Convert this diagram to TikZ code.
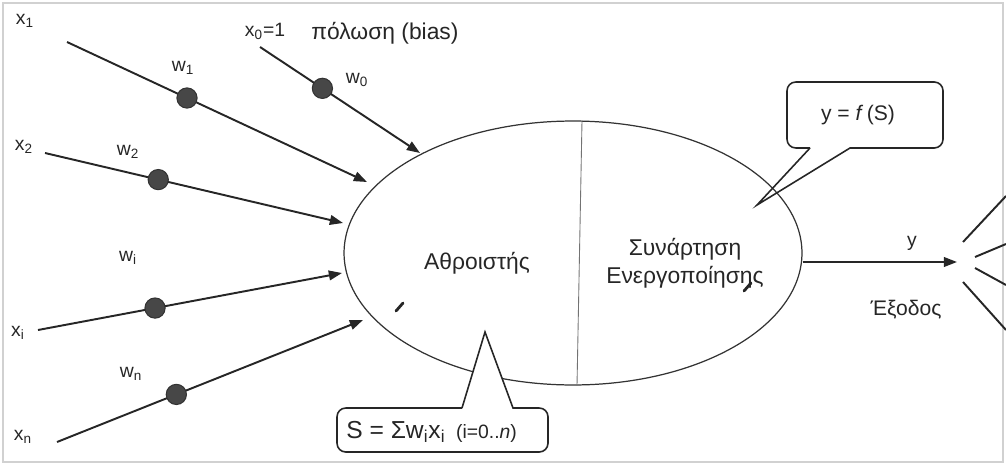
\documentclass[tikz,border=0pt]{standalone}
\usepackage{fontspec}
\setmainfont{Liberation Sans}
\usetikzlibrary{arrows.meta,shapes.geometric,calc}

\begin{document}
\begin{tikzpicture}[x=0.02cm,y=-0.02cm,
  line/.style={draw=black!85, line width=1.1pt},
  arr/.style={line, -{Triangle[length=7.5pt,width=5.5pt]}},
  wdot/.style={circle, fill=black!72, draw=black!80, line width=0.6pt, minimum size=11.5pt, inner sep=0pt},
  lbl/.style={font=\fontsize{11}{13}\selectfont, text=black!85, inner sep=0pt},
  big/.style={font=\fontsize{13}{16}\selectfont, text=black!85, align=center, inner sep=0pt},
  bubble/.style={draw=black!85, line width=0.9pt},
  stroke/.style={draw=black!85, line width=1.6pt, line cap=round},
]
\useasboundingbox (0,0) rectangle (1006,466);
% faint outer frame
\draw[black!18, line width=0.8pt] (3,3) rectangle (1003,462);

% the neuron body
\node[ellipse, draw=black!80, line width=0.7pt, minimum width=9.16cm, minimum height=5.28cm, inner sep=0pt] (neuron) at (573,253) {};
\draw[black!55, line width=0.5pt] ($(neuron.north)+(9,0)$) -- ($(neuron.south)+(4,0)$);

% input labels
\node[lbl] (x1) at (25,21) {x\textsubscript{1}};
\node[lbl] (x0) at (265,31) {x\textsubscript{0}=1};
\node[lbl, anchor=west, font=\fontsize{13}{15}\selectfont] (bias) at (311,33) {πόλωση (bias)};
\node[lbl] (x2) at (24,147) {x\textsubscript{2}};
\node[lbl] (xi) at (18,333) {x\textsubscript{i}};
\node[lbl] (xn) at (23,437) {x\textsubscript{n}};

% weight labels
\node[lbl] (w1) at (183,68) {w\textsubscript{1}};
\node[lbl] (w0) at (357,80) {w\textsubscript{0}};
\node[lbl] (w2) at (128,152) {w\textsubscript{2}};
\node[lbl] (wi) at (128,258) {w\textsubscript{i}};
\node[lbl] (wn) at (131,374) {w\textsubscript{n}};

% start and end points of the weighted inputs
\coordinate (s1) at (67,42);   \coordinate (t1) at (367,182);
\coordinate (s0) at (260,47);  \coordinate (t0) at (420,153);
\coordinate (s2) at (45,153);  \coordinate (t2) at (343,223);
\coordinate (si) at (38,330);  \coordinate (ti) at (342,273);
\coordinate (sn) at (57,442);  \coordinate (tn) at (363,320);

\draw[arr] (s1) -- node[wdot, pos=0.40] (d1) {} (t1);
\draw[arr] (s0) -- node[wdot, pos=0.39] (d0) {} (t0);
\draw[arr] (s2) -- node[wdot, pos=0.38] (d2) {} (t2);
\draw[arr] (si) -- node[wdot, pos=0.385] (di) {} (ti);
\draw[arr] (sn) -- node[wdot, pos=0.39] (dn) {} (tn);

% texts inside the body
\node[big] (sum) at (477,263) {Αθροιστής};
\node[big] (act) at (685,263) {Συνάρτηση\\Ενεργοποίησης};
\draw[stroke] (396,311) -- (403,303);
\draw[stroke] (744,291) -- (751,283);

% output
\coordinate (outtip) at (957,262);
\draw[arr] (neuron.east |- outtip) -- (outtip);
\node[lbl] (y) at (912,243) {y};
\node[lbl, font=\fontsize{12}{14}\selectfont] (exodos) at (906,310) {Έξοδος};

% fan of outgoing lines
\draw[line] (963,242) -- (1006,196);
\draw[line] (975,257) -- (1006,244);
\draw[line] (975,268) -- (1006,285);
\draw[line] (963,282) -- (1006,330);

% callout for the activation
\draw[bubble] (810,148) -- (757,205) -- (850,148) [rounded corners=5pt] -- (943,148) -- (943,82) -- (787,82) -- (787,148) -- (810,148);
\node[lbl, font=\fontsize{12}{14}\selectfont] (fS) at (858,115) {y = \textit{f}\,(S)};

% callout for the weighted sum
\draw[bubble, fill=white] (462,408) -- (485,332) -- (513,408) [rounded corners=5pt] -- (548,408) -- (548,452) -- (337,452) -- (337,408) -- (462,408);
\node[lbl, anchor=west] (S) at (346,432) {{\fontsize{14}{16}\selectfont S = Σw\textsubscript{i}x\textsubscript{i}}\ \ (i=0..\textit{n})};
\end{tikzpicture}
\end{document}
